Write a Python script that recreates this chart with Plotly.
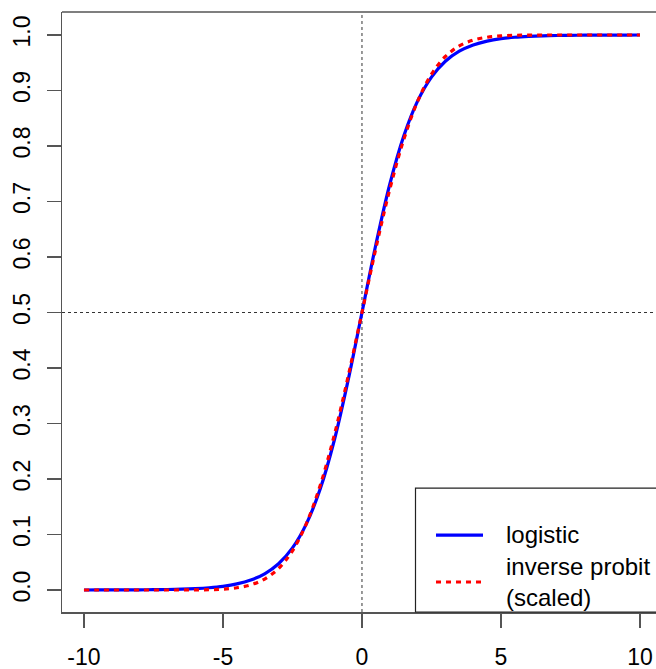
import plotly.graph_objects as go

x_vals = [-10, -9.5, -9, -8.5, -8, -7.5, -7, -6.5, -6, -5.5, -5, -4.5, -4, -3.5, -3, -2.5, -2, -1.5, -1, -0.5,
          0, 0.5, 1, 1.5, 2, 2.5, 3, 3.5, 4, 4.5, 5, 5.5, 6, 6.5, 7, 7.5, 8, 8.5, 9, 9.5, 10]
logistic_vals = [0.0000, 0.0001, 0.0001, 0.0002, 0.0003, 0.0006, 0.0009, 0.0015, 0.0025, 0.0041,
                 0.0067, 0.0110, 0.0180, 0.0293, 0.0474, 0.0759, 0.1192, 0.1824, 0.2689, 0.3775,
                 0.5000,
                 0.6225, 0.7311, 0.8176, 0.8808, 0.9241, 0.9526, 0.9707, 0.9820, 0.9890, 0.9933,
                 0.9959, 0.9975, 0.9985, 0.9991, 0.9994, 0.9997, 0.9998, 0.9999, 0.9999, 1.0000]
probit_vals = [0.0000, 0.0000, 0.0000, 0.0000, 0.0000, 0.0000, 0.0000, 0.0001, 0.0002, 0.0006,
               0.0016, 0.0041, 0.0093, 0.0198, 0.0388, 0.0707, 0.1197, 0.1888, 0.2782, 0.3843,
               0.5000,
               0.6157, 0.7218, 0.8112, 0.8803, 0.9293, 0.9612, 0.9802, 0.9907, 0.9959, 0.9984,
               0.9994, 0.9998, 0.9999, 1.0000, 1.0000, 1.0000, 1.0000, 1.0000, 1.0000, 1.0000]
x_ticks = [-10, -5, 0, 5, 10]
y_ticks = [0.0, 0.1, 0.2, 0.3, 0.4, 0.5, 0.6, 0.7, 0.8, 0.9, 1.0]
legend_labels = ["logistic", "inverse probit<br>(scaled)"]

W, H = 656, 669
L, R, T, B = 62, 0, 11.5, 57
pw, ph = W - L - R, H - T - B
FONT = "Liberation Sans, Arial, Helvetica, sans-serif"
FS = 23
LFS = 24
FRAME = "#555555"


def px(xp):
    return (xp - L) / pw


def py(yp):
    return 1 - (yp - T) / ph


fig = go.Figure()
fig.add_trace(go.Scatter(x=x_vals, y=logistic_vals, mode="lines", line=dict(color="#0000ff", width=3.2, shape="spline"),
                         showlegend=False, hoverinfo="skip"))
fig.add_trace(go.Scatter(x=x_vals, y=probit_vals, mode="lines",
                         line=dict(color="#ff0000", width=3.2, dash="5px,5px", shape="spline"),
                         showlegend=False, hoverinfo="skip"))

shapes = [
    dict(type="line", xref="x", yref="paper", x0=0, x1=0, y0=0, y1=1,
         line=dict(color="#333333", width=1, dash="dot"), layer="below"),
    dict(type="line", xref="paper", yref="y", x0=0, x1=1, y0=0.5, y1=0.5,
         line=dict(color="#333333", width=1, dash="dot"), layer="below"),
    dict(type="line", xref="paper", yref="paper", x0=0, x1=1.02, y0=1, y1=1,
         line=dict(color=FRAME, width=1.5)),
    dict(type="rect", xref="paper", yref="paper", x0=px(415.5), x1=px(700), y0=py(612), y1=py(488),
         line=dict(color="#222222", width=1.2), fillcolor="white", layer="above"),
    dict(type="line", xref="paper", yref="paper", x0=px(436), x1=px(483), y0=py(535), y1=py(535),
         line=dict(color="#0000ff", width=3.2)),
    dict(type="line", xref="paper", yref="paper", x0=px(436), x1=px(483), y0=py(582), y1=py(582),
         line=dict(color="#ff0000", width=3.2, dash="5px,5px")),
]

annotations = [
    dict(text=legend_labels[0], xref="paper", yref="paper", x=px(504), y=py(534), xanchor="left", yanchor="middle",
         showarrow=False, font=dict(family=FONT, size=LFS, color="black")),
    dict(text=legend_labels[1], xref="paper", yref="paper", x=px(504), y=py(582), xanchor="left", yanchor="middle",
         showarrow=False, align="left", font=dict(family=FONT, size=LFS, color="black")),
]

fig.update_layout(
    width=W, height=H,
    margin=dict(l=L, r=R, t=T, b=B, pad=0, autoexpand=False),
    paper_bgcolor="white", plot_bgcolor="white",
    font=dict(family=FONT, size=FS, color="black"),
    shapes=shapes, annotations=annotations,
    showlegend=False,
)
fig.update_xaxes(range=[-10.79, 10.576], tickvals=x_ticks, ticktext=[str(v) for v in x_ticks],
                 showgrid=False, zeroline=False, showline=True, linecolor=FRAME, linewidth=1.5, automargin=False,
                 ticks="outside", ticklen=14, tickwidth=1.2, tickcolor=FRAME, ticklabelstandoff=10,
                 tickfont=dict(family=FONT, size=FS, color="black"))
fig.update_yaxes(range=[-0.0396, 1.0414], tickvals=y_ticks, ticktext=[f"{v:.1f}" for v in y_ticks],
                 showgrid=False, zeroline=False, showline=True, linecolor=FRAME, linewidth=1.5, automargin=False,
                 ticks="outside", ticklen=14, tickwidth=1.2, tickcolor=FRAME, tickangle=-90, ticklabelstandoff=7,
                 tickfont=dict(family=FONT, size=FS, color="black"))

fig.write_html("out.html", config={"displayModeBar": False, "staticPlot": True},
               post_script="document.body.style.margin='0';document.body.style.padding='0';document.body.style.overflow='hidden';")
